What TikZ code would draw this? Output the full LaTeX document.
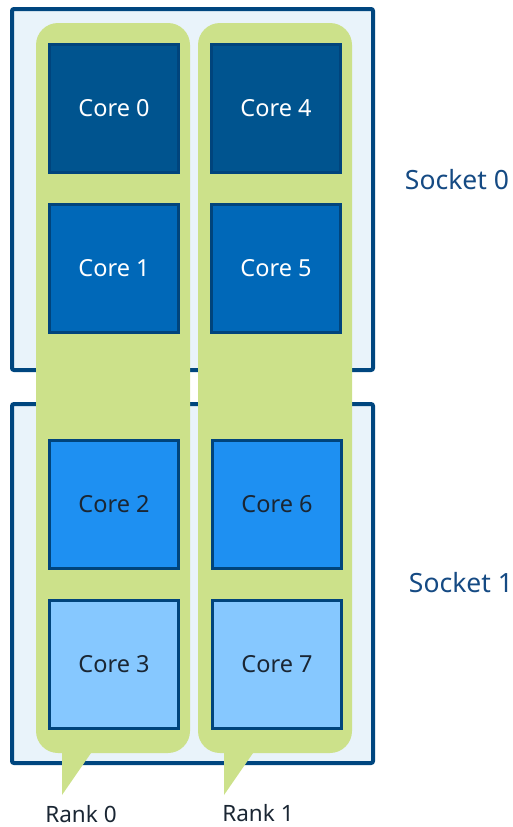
\documentclass[tikz,border=0pt]{standalone}
\usepackage{fontspec}
\setmainfont{Noto Sans}
\definecolor{sockfill}{HTML}{E9F3FA}
\definecolor{sockline}{HTML}{00467F}
\definecolor{pillgreen}{HTML}{CCE18A}
\definecolor{coreA}{HTML}{00548F}
\definecolor{coreB}{HTML}{0068B8}
\definecolor{coreC}{HTML}{1E90F2}
\definecolor{coreD}{HTML}{86C8FF}
\definecolor{coreline}{HTML}{00447C}
\definecolor{socktext}{HTML}{154A83}
\definecolor{darktext}{HTML}{1A2633}
\begin{document}
\begin{tikzpicture}[x=1pt,y=-1pt,
  socketbox/.style={draw=sockline,fill=sockfill,line width=4pt,rounded corners=2pt},
  pill/.style={fill=pillgreen,rounded corners=22pt},
  corebox/.style={draw=coreline,line width=3pt,minimum width=129pt,minimum height=128pt,inner sep=0pt,font=\fontsize{23.5}{26}\selectfont},
  lbl/.style={font=\fontsize{22.5}{26}\selectfont,inner sep=0pt},
  slbl/.style={font=\fontsize{26.5}{30}\selectfont,inner sep=0pt,text=socktext},
]
\useasboundingbox (0,0) rectangle (513,827);
% sockets
\draw[socketbox] (12,9) rectangle (373,370);
\draw[socketbox] (12,404) rectangle (373,763);
% rank pills with tails
\fill[pill] (36,23) rectangle (190,753);
\fill[pillgreen] (62,740) -- (100,740) -- (62,795) -- cycle;
\fill[pill] (198,23) rectangle (352,753);
\fill[pillgreen] (224,740) -- (262,740) -- (224,795) -- cycle;
% cores
\node[corebox,fill=coreA,text=white] (c0) at (114,108.5) {Core 0};
\node[corebox,fill=coreB,text=white] (c1) at (114,268.5) {Core 1};
\node[corebox,fill=coreC,text=darktext] (c2) at (114,504) {Core 2};
\node[corebox,fill=coreD,text=darktext] (c3) at (114,664) {Core 3};
\node[corebox,fill=coreA,text=white] (c4) at (276,108.5) {Core 4};
\node[corebox,fill=coreB,text=white] (c5) at (276,268.5) {Core 5};
\node[corebox,fill=coreC,text=darktext] (c6) at (277,504) {Core 6};
\node[corebox,fill=coreD,text=darktext] (c7) at (277,664) {Core 7};
% labels
\node[slbl] (s0) at (457,180) {Socket 0};
\node[slbl] (s1) at (461,583) {Socket 1};
\node[lbl,text=darktext,anchor=base] (r0) at (81,822) {Rank 0};
\node[lbl,text=darktext,anchor=base] (r1) at (258,821) {Rank 1};
\end{tikzpicture}
\end{document}
